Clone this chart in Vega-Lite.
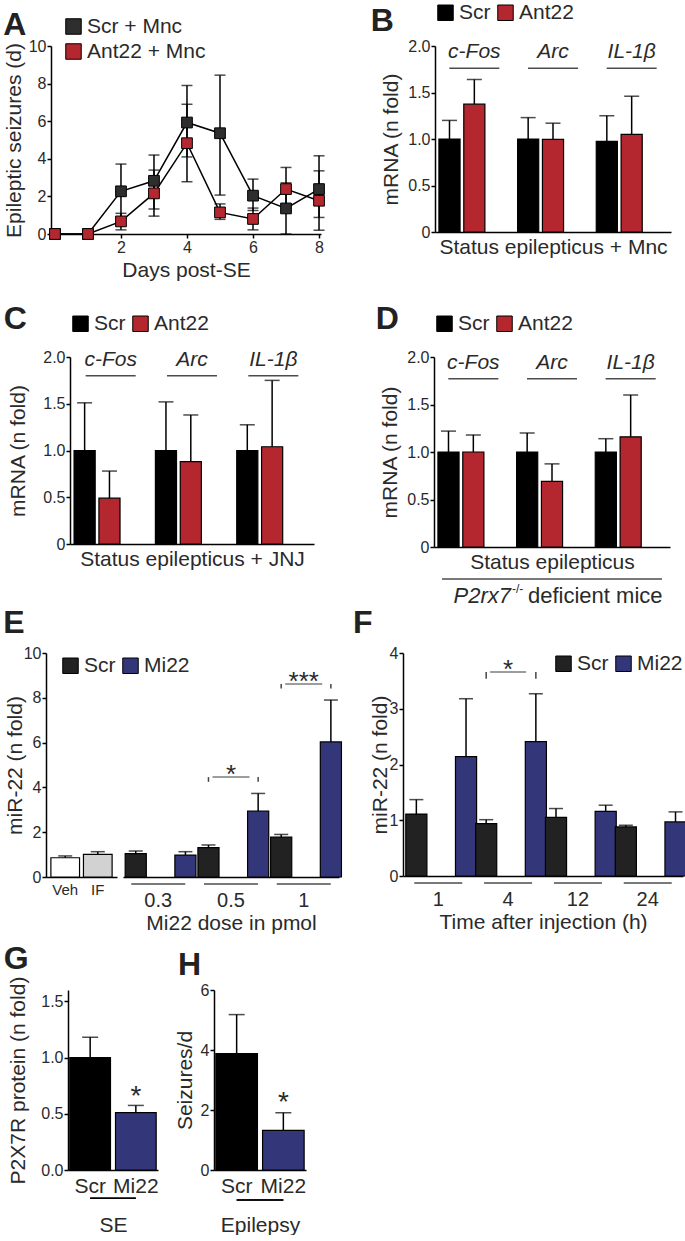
{
"$schema": "https://vega.github.io/schema/vega-lite/v6.json",
"padding": {"left": 2, "top": 2, "right": 0, "bottom": 0},
"background": "white",
"config": {
  "font": "Liberation Sans",
  "view": {"stroke": null},
  "axis": {"domainColor": "#000", "domainWidth": 1.5, "tickColor": "#000", "tickWidth": 1.5, "tickSize": 4, "labelFontSize": 16, "labelColor": "#2a2a2a", "titleFontSize": 21, "titleFontWeight": "normal", "titleColor": "#2a2a2a", "grid": false, "labelPadding": 1, "labelOverlap": false},
  "legend": {"labelFontSize": 21, "labelColor": "#2a2a2a", "symbolType": "square", "symbolSize": 240, "symbolStrokeColor": "#000", "symbolStrokeWidth": 1, "symbolOpacity": 1, "labelOffset": 3, "columnPadding": 4, "rowPadding": 3, "padding": 0},
  "title": {"fontSize": 32, "fontWeight": "bold", "anchor": "start", "frame": "bounds", "color": "#222", "baseline": "alphabetic", "offset": 0}
},
"datasets": {
  "A": [
    {"day": 0, "group": "Scr + Mnc", "mean": 0, "lo": 0, "hi": 0},
    {"day": 1, "group": "Scr + Mnc", "mean": 0, "lo": 0, "hi": 0},
    {"day": 2, "group": "Scr + Mnc", "mean": 2.27, "lo": 0.82, "hi": 3.72},
    {"day": 3, "group": "Scr + Mnc", "mean": 2.83, "lo": 1.33, "hi": 4.2},
    {"day": 4, "group": "Scr + Mnc", "mean": 5.93, "lo": 4.1, "hi": 7.9},
    {"day": 5, "group": "Scr + Mnc", "mean": 5.36, "lo": 2.07, "hi": 8.45},
    {"day": 6, "group": "Scr + Mnc", "mean": 2.04, "lo": 1.25, "hi": 2.92},
    {"day": 7, "group": "Scr + Mnc", "mean": 1.36, "lo": 0, "hi": 2.72},
    {"day": 8, "group": "Scr + Mnc", "mean": 2.39, "lo": 0.88, "hi": 4.16},
    {"day": 0, "group": "Ant22 + Mnc", "mean": 0, "lo": 0, "hi": 0},
    {"day": 1, "group": "Ant22 + Mnc", "mean": 0, "lo": 0, "hi": 0},
    {"day": 2, "group": "Ant22 + Mnc", "mean": 0.67, "lo": 0.22, "hi": 1.1},
    {"day": 3, "group": "Ant22 + Mnc", "mean": 2.16, "lo": 0.95, "hi": 3.4},
    {"day": 4, "group": "Ant22 + Mnc", "mean": 4.83, "lo": 2.78, "hi": 6.9},
    {"day": 5, "group": "Ant22 + Mnc", "mean": 1.15, "lo": 0.78, "hi": 1.6},
    {"day": 6, "group": "Ant22 + Mnc", "mean": 0.8, "lo": 0.22, "hi": 1.38},
    {"day": 7, "group": "Ant22 + Mnc", "mean": 2.39, "lo": 1.24, "hi": 3.54},
    {"day": 8, "group": "Ant22 + Mnc", "mean": 1.77, "lo": 0.2, "hi": 3.36}
  ],
  "B": [
    {"gene": "c-Fos", "trt": "Scr", "mean": 1.0, "hi": 1.2},
    {"gene": "c-Fos", "trt": "Ant22", "mean": 1.375, "hi": 1.64},
    {"gene": "Arc", "trt": "Scr", "mean": 1.0, "hi": 1.23},
    {"gene": "Arc", "trt": "Ant22", "mean": 0.995, "hi": 1.17},
    {"gene": "IL-1β", "trt": "Scr", "mean": 0.975, "hi": 1.25},
    {"gene": "IL-1β", "trt": "Ant22", "mean": 1.05, "hi": 1.46}
  ],
  "C": [
    {"gene": "c-Fos", "trt": "Scr", "mean": 1.0, "hi": 1.51},
    {"gene": "c-Fos", "trt": "Ant22", "mean": 0.49, "hi": 0.78},
    {"gene": "Arc", "trt": "Scr", "mean": 1.0, "hi": 1.52},
    {"gene": "Arc", "trt": "Ant22", "mean": 0.88, "hi": 1.38},
    {"gene": "IL-1β", "trt": "Scr", "mean": 1.0, "hi": 1.275},
    {"gene": "IL-1β", "trt": "Ant22", "mean": 1.04, "hi": 1.75}
  ],
  "D": [
    {"gene": "c-Fos", "trt": "Scr", "mean": 1.0, "hi": 1.22},
    {"gene": "c-Fos", "trt": "Ant22", "mean": 1.0, "hi": 1.18},
    {"gene": "Arc", "trt": "Scr", "mean": 1.0, "hi": 1.2},
    {"gene": "Arc", "trt": "Ant22", "mean": 0.69, "hi": 0.875},
    {"gene": "IL-1β", "trt": "Scr", "mean": 1.0, "hi": 1.14},
    {"gene": "IL-1β", "trt": "Ant22", "mean": 1.16, "hi": 1.6}
  ],
  "E1": [
    {"cond": "Veh", "mean": 0.86, "hi": 0.94},
    {"cond": "IF", "mean": 1.01, "hi": 1.13}
  ],
  "E2": [
    {"dose": "0.3", "trt": "Scr", "mean": 1.04, "hi": 1.16},
    {"dose": "0.3", "trt": "Mi22", "mean": 0.98, "hi": 1.13},
    {"dose": "0.5", "trt": "Scr", "mean": 1.31, "hi": 1.43},
    {"dose": "0.5", "trt": "Mi22", "mean": 2.94, "hi": 3.73},
    {"dose": "1", "trt": "Scr", "mean": 1.78, "hi": 1.9},
    {"dose": "1", "trt": "Mi22", "mean": 6.03, "hi": 7.9}
  ],
  "Esig": [
    {"dose": "0.5", "trt": "Scr", "level": 4.46, "leg": 4.25, "star": "*"},
    {"dose": "0.5", "trt": "Mi22", "level": 4.46, "leg": 4.25, "star": "*"},
    {"dose": "1", "trt": "Scr", "level": 8.62, "leg": 8.41, "star": "***"},
    {"dose": "1", "trt": "Mi22", "level": 8.62, "leg": 8.41, "star": "***"}
  ],
  "F": [
    {"time": "1", "trt": "Scr", "mean": 1.11, "hi": 1.37},
    {"time": "1", "trt": "Mi22", "mean": 2.14, "hi": 3.18},
    {"time": "4", "trt": "Scr", "mean": 0.94, "hi": 1.01},
    {"time": "4", "trt": "Mi22", "mean": 2.41, "hi": 3.27},
    {"time": "12", "trt": "Scr", "mean": 1.05, "hi": 1.21},
    {"time": "12", "trt": "Mi22", "mean": 1.16, "hi": 1.27},
    {"time": "24", "trt": "Scr", "mean": 0.88, "hi": 0.91},
    {"time": "24", "trt": "Mi22", "mean": 0.97, "hi": 1.15}
  ],
  "Fsig": [
    {"time": "4", "trt": "Scr", "level": 3.66, "leg": 3.54, "star": "*"},
    {"time": "4", "trt": "Mi22", "level": 3.66, "leg": 3.54, "star": "*"}
  ],
  "G": [
    {"trt": "Scr", "mean": 1.0, "hi": 1.18, "sig": ""},
    {"trt": "Mi22", "mean": 0.51, "hi": 0.574, "sig": "*"}
  ],
  "H": [
    {"trt": "Scr", "mean": 3.88, "hi": 5.18, "sig": ""},
    {"trt": "Mi22", "mean": 1.32, "hi": 1.91, "sig": "*"}
  ]
},
"resolve": {"scale": {"fill": "independent"}, "legend": {"fill": "independent"}},
"spacing": 23,
"vconcat": [
  {
    "spacing": 0,
    "resolve": {"scale": {"fill": "independent"}, "legend": {"fill": "independent"}},
    "hconcat": [
      {"width": 1, "height": 1, "data": {"values": []}, "mark": "point"},
      {
        "spacing": 43,
        "resolve": {"scale": {"fill": "independent"}, "legend": {"fill": "independent"}},
        "hconcat": [
          {
            "width": 270, "height": 188,
            "title": {"text": "A", "dx": 0, "offset": -26},
            "data": {"name": "A"},
            "encoding": {
              "x": {"field": "day", "type": "quantitative", "scale": {"domain": [-0.12, 8.06]}, "axis": {"values": [2, 4, 6, 8], "title": "Days post-SE", "titlePadding": 4}}
            },
            "layer": [
              {"mark": {"type": "line", "color": "#000", "strokeWidth": 1.5},
               "encoding": {"y": {"field": "mean", "type": "quantitative", "scale": {"domain": [0, 10]}, "axis": {"values": [0, 2, 4, 6, 8, 10], "format": "d", "labelOverlap": false, "title": "Epileptic seizures (d)", "titlePadding": 4}}, "detail": {"field": "group"}}},
              {"mark": {"type": "rule", "color": "#000", "strokeWidth": 1.5},
               "encoding": {"y": {"field": "lo", "type": "quantitative", "axis": {"values": [0, 2, 4, 6, 8, 10], "format": "d", "labelOverlap": false, "title": "Epileptic seizures (d)", "titlePadding": 4}}, "y2": {"field": "hi"}}},
              {"mark": {"type": "tick", "orient": "horizontal", "size": 11, "thickness": 1.5, "color": "#000"},
               "encoding": {"y": {"field": "lo", "type": "quantitative", "axis": {"values": [0, 2, 4, 6, 8, 10], "format": "d", "labelOverlap": false, "title": "Epileptic seizures (d)", "titlePadding": 4}}}},
              {"mark": {"type": "tick", "orient": "horizontal", "size": 11, "thickness": 1.5, "color": "#000"},
               "encoding": {"y": {"field": "hi", "type": "quantitative", "axis": {"values": [0, 2, 4, 6, 8, 10], "format": "d", "labelOverlap": false, "title": "Epileptic seizures (d)", "titlePadding": 4}}}},
              {"mark": {"type": "point", "shape": "square", "filled": true, "size": 115, "stroke": "#000", "strokeWidth": 1, "opacity": 1},
               "encoding": {"y": {"field": "mean", "type": "quantitative", "axis": {"values": [0, 2, 4, 6, 8, 10], "format": "d", "labelOverlap": false, "title": "Epileptic seizures (d)", "titlePadding": 4}},
                 "fill": {"field": "group", "type": "nominal", "scale": {"domain": ["Scr + Mnc", "Ant22 + Mnc"], "range": ["#2e2e2e", "#b5272f"]},
                   "legend": {"title": null, "orient": "none", "legendX": 12, "legendY": -30, "direction": "vertical"}}}}
            ]
          },
          {
            "width": 236, "height": 186,
            "title": {"text": "B", "dx": -10, "offset": -36},
            "data": {"name": "B"},
            "encoding": {
              "x": {"field": "gene", "type": "nominal", "sort": ["c-Fos", "Arc", "IL-1β"], "scale": {"paddingInner": 0.1, "paddingOuter": 0.05}, "axis": {"title": "Status epilepticus + Mnc", "labels": false, "ticks": false, "titlePadding": 4}}
            },
            "layer": [
              {"mark": {"type": "bar", "stroke": "#000", "strokeWidth": 1.2},
               "encoding": {"xOffset": {"field": "trt", "type": "nominal", "sort": ["Scr", "Ant22"], "scale": {"paddingInner": 0.15}},
                 "y": {"field": "mean", "type": "quantitative", "scale": {"domain": [0, 2]}, "axis": {"values": [0, 0.5, 1, 1.5, 2], "labelExpr": "datum.value == 0 ? '0' : format(datum.value, '.1f')", "title": "mRNA (n fold)", "titlePadding": 6}},
                 "fill": {"field": "trt", "type": "nominal", "scale": {"domain": ["Scr", "Ant22"], "range": ["#000000", "#b5272f"]},
                   "legend": {"title": null, "orient": "none", "legendX": 0, "legendY": -44, "direction": "horizontal"}}}},
              {"mark": {"type": "rule", "color": "#000", "strokeWidth": 1.5},
               "encoding": {"xOffset": {"field": "trt", "type": "nominal", "sort": ["Scr", "Ant22"]}, "y": {"field": "mean", "type": "quantitative", "title": "mRNA (n fold)"}, "y2": {"field": "hi"}}},
              {"mark": {"type": "tick", "orient": "horizontal", "size": 15, "thickness": 1.5, "color": "#000"},
               "encoding": {"xOffset": {"field": "trt", "type": "nominal", "sort": ["Scr", "Ant22"]}, "y": {"field": "hi", "type": "quantitative", "title": "mRNA (n fold)"}}},
              {"transform": [{"filter": "datum.trt == 'Scr'"}],
               "mark": {"type": "text", "fontStyle": "italic", "fontSize": 21, "color": "#2a2a2a", "baseline": "middle"},
               "encoding": {"y": {"datum": 1.94}, "text": {"field": "gene"}}},
              {"transform": [{"filter": "datum.trt == 'Scr'"}],
               "mark": {"type": "tick", "orient": "horizontal", "size": 50, "thickness": 1.5, "color": "#000"},
               "encoding": {"y": {"datum": 1.76}}}
            ]
          }
        ]
      }
    ]
  },
  {
    "spacing": -1,
    "resolve": {"scale": {"fill": "independent"}, "legend": {"fill": "independent"}},
    "vconcat": [
      {
        "spacing": 0,
        "resolve": {"scale": {"fill": "independent"}, "legend": {"fill": "independent"}},
        "hconcat": [
          {"width": 1, "height": 1, "data": {"values": []}, "mark": "point"},
          {
            "spacing": 61,
            "resolve": {"scale": {"fill": "independent"}, "legend": {"fill": "independent"}},
            "hconcat": [
              {
                "width": 244, "height": 187,
                "title": {"text": "C", "dx": -4, "offset": -23},
                "data": {"name": "C"},
                "encoding": {
                  "x": {"field": "gene", "type": "nominal", "sort": ["c-Fos", "Arc", "IL-1β"], "scale": {"paddingInner": 0.1, "paddingOuter": 0.05}, "axis": {"title": "Status epilepticus + JNJ", "labels": false, "ticks": false, "titlePadding": 4}}
                },
                "layer": [
                  {"mark": {"type": "bar", "stroke": "#000", "strokeWidth": 1.2},
                   "encoding": {"xOffset": {"field": "trt", "type": "nominal", "sort": ["Scr", "Ant22"], "scale": {"paddingInner": 0.15}},
                     "y": {"field": "mean", "type": "quantitative", "scale": {"domain": [0, 2]}, "axis": {"values": [0, 0.5, 1, 1.5, 2], "labelExpr": "datum.value == 0 ? '0' : format(datum.value, '.1f')", "title": "mRNA (n fold)", "titlePadding": 14}},
                     "fill": {"field": "trt", "type": "nominal", "scale": {"domain": ["Scr", "Ant22"], "range": ["#000000", "#b5272f"]},
                       "legend": {"title": null, "orient": "none", "legendX": 0, "legendY": -44, "direction": "horizontal"}}}},
                  {"mark": {"type": "rule", "color": "#000", "strokeWidth": 1.5},
                   "encoding": {"xOffset": {"field": "trt", "type": "nominal", "sort": ["Scr", "Ant22"]}, "y": {"field": "mean", "type": "quantitative", "title": "mRNA (n fold)"}, "y2": {"field": "hi"}}},
                  {"mark": {"type": "tick", "orient": "horizontal", "size": 15, "thickness": 1.5, "color": "#000"},
                   "encoding": {"xOffset": {"field": "trt", "type": "nominal", "sort": ["Scr", "Ant22"]}, "y": {"field": "hi", "type": "quantitative", "title": "mRNA (n fold)"}}},
                  {"transform": [{"filter": "datum.trt == 'Scr'"}],
                   "mark": {"type": "text", "fontStyle": "italic", "fontSize": 21, "color": "#2a2a2a", "baseline": "middle"},
                   "encoding": {"y": {"datum": 1.97}, "text": {"field": "gene"}}},
                  {"transform": [{"filter": "datum.trt == 'Scr'"}],
                   "mark": {"type": "tick", "orient": "horizontal", "size": 50, "thickness": 1.5, "color": "#000"},
                   "encoding": {"y": {"datum": 1.8}}}
                ]
              },
              {
                "width": 236, "height": 190,
                "title": {"text": "D", "dx": -4, "offset": -23},
                "data": {"name": "D"},
                "encoding": {
                  "x": {"field": "gene", "type": "nominal", "sort": ["c-Fos", "Arc", "IL-1β"], "scale": {"paddingInner": 0.1, "paddingOuter": 0.05}, "axis": {"title": "Status epilepticus", "labels": false, "ticks": false, "titlePadding": 4}}
                },
                "layer": [
                  {"mark": {"type": "bar", "stroke": "#000", "strokeWidth": 1.2},
                   "encoding": {"xOffset": {"field": "trt", "type": "nominal", "sort": ["Scr", "Ant22"], "scale": {"paddingInner": 0.15}},
                     "y": {"field": "mean", "type": "quantitative", "scale": {"domain": [0, 2]}, "axis": {"values": [0, 0.5, 1, 1.5, 2], "labelExpr": "datum.value == 0 ? '0' : format(datum.value, '.1f')", "title": "mRNA (n fold)", "titlePadding": 6}},
                     "fill": {"field": "trt", "type": "nominal", "scale": {"domain": ["Scr", "Ant22"], "range": ["#000000", "#b5272f"]},
                       "legend": {"title": null, "orient": "none", "legendX": 0, "legendY": -44, "direction": "horizontal"}}}},
                  {"mark": {"type": "rule", "color": "#000", "strokeWidth": 1.5},
                   "encoding": {"xOffset": {"field": "trt", "type": "nominal", "sort": ["Scr", "Ant22"]}, "y": {"field": "mean", "type": "quantitative", "title": "mRNA (n fold)"}, "y2": {"field": "hi"}}},
                  {"mark": {"type": "tick", "orient": "horizontal", "size": 15, "thickness": 1.5, "color": "#000"},
                   "encoding": {"xOffset": {"field": "trt", "type": "nominal", "sort": ["Scr", "Ant22"]}, "y": {"field": "hi", "type": "quantitative", "title": "mRNA (n fold)"}}},
                  {"transform": [{"filter": "datum.trt == 'Scr'"}],
                   "mark": {"type": "text", "fontStyle": "italic", "fontSize": 21, "color": "#2a2a2a", "baseline": "middle"},
                   "encoding": {"y": {"datum": 1.94}, "text": {"field": "gene"}}},
                  {"transform": [{"filter": "datum.trt == 'Scr'"}],
                   "mark": {"type": "tick", "orient": "horizontal", "size": 50, "thickness": 1.5, "color": "#000"},
                   "encoding": {"y": {"datum": 1.77}}},
                  {"transform": [{"filter": "datum.gene == 'Arc' && datum.trt == 'Scr'"}],
                   "mark": {"type": "tick", "orient": "horizontal", "size": 220, "thickness": 1.5, "color": "#000"},
                   "encoding": {"y": {"datum": -0.337}}},
                  {"transform": [{"filter": "datum.gene == 'Arc' && datum.trt == 'Scr'"}],
                   "mark": {"type": "text", "text": "P2rx7", "fontStyle": "italic", "fontSize": 22, "color": "#2a2a2a", "align": "right", "baseline": "middle", "dx": -41},
                   "encoding": {"y": {"datum": -0.52}}},
                  {"transform": [{"filter": "datum.gene == 'Arc' && datum.trt == 'Scr'"}],
                   "mark": {"type": "text", "text": "-/-", "fontSize": 12, "color": "#2a2a2a", "align": "left", "baseline": "middle", "dx": -40, "dy": -7},
                   "encoding": {"y": {"datum": -0.52}}},
                  {"transform": [{"filter": "datum.gene == 'Arc' && datum.trt == 'Scr'"}],
                   "mark": {"type": "text", "text": "deficient mice", "fontSize": 22, "color": "#2a2a2a", "align": "left", "baseline": "middle", "dx": -24},
                   "encoding": {"y": {"datum": -0.52}}}
                ]
              }
            ]
          }
        ]
      },
      {
        "spacing": 10,
        "resolve": {"scale": {"fill": "independent"}, "legend": {"fill": "independent"}},
        "vconcat": [
          {
            "spacing": 0,
            "resolve": {"scale": {"fill": "independent"}, "legend": {"fill": "independent"}},
            "hconcat": [
              {"width": 1, "height": 1, "data": {"values": []}, "mark": "point"},
              {
                "spacing": 10,
                "resolve": {"scale": {"fill": "independent"}, "legend": {"fill": "independent"}},
                "hconcat": [
                  {
                    "width": 293, "height": 224,
                    "title": {"text": "E", "dx": -1, "offset": 5},
                    "resolve": {"scale": {"x": "independent", "fill": "independent"}, "axis": {"x": "independent"}},
                    "layer": [
                      {
                        "data": {"name": "E1"},
                        "encoding": {"x": {"field": "cond", "type": "nominal", "sort": ["Veh", "IF"], "scale": {"range": [0, 71], "paddingInner": 0.12, "paddingOuter": 0.15}, "axis": {"title": null, "labelAngle": 0, "ticks": false, "labelFontSize": 15, "labelPadding": 5, "orient": "bottom"}}},
                        "layer": [
                          {"mark": {"type": "bar", "stroke": "#000", "strokeWidth": 1.2},
                           "encoding": {"y": {"field": "mean", "type": "quantitative", "scale": {"domain": [0, 10]}, "axis": {"values": [0, 2, 4, 6, 8, 10], "format": "d", "title": "miR-22 (n fold)", "titlePadding": -2}},
                             "fill": {"field": "cond", "type": "nominal", "scale": {"domain": ["Veh", "IF"], "range": ["#ffffff", "#d2d2d2"]}, "legend": null}}},
                          {"mark": {"type": "rule", "color": "#000", "strokeWidth": 1.5},
                           "encoding": {"y": {"field": "mean", "type": "quantitative", "title": "miR-22 (n fold)"}, "y2": {"field": "hi"}}},
                          {"mark": {"type": "tick", "orient": "horizontal", "size": 14, "thickness": 1.5, "color": "#000"},
                           "encoding": {"y": {"field": "hi", "type": "quantitative", "title": "miR-22 (n fold)"}}}
                        ]
                      },
                      {
                        "encoding": {"x": {"field": "dose", "type": "nominal", "sort": ["0.3", "0.5", "1"], "scale": {"range": [77, 293], "paddingInner": 0.09, "paddingOuter": 0.03}, "axis": {"title": "Mi22 dose in pmol", "labelAngle": 0, "ticks": false, "labelFontSize": 20, "labelPadding": 13, "titlePadding": 2, "orient": "bottom"}}},
                        "layer": [
                          {"data": {"name": "E2"},
                           "mark": {"type": "bar", "stroke": "#000", "strokeWidth": 1.2},
                           "encoding": {"xOffset": {"field": "trt", "type": "nominal", "sort": ["Scr", "Mi22"], "scale": {"paddingInner": 0.15}},
                             "y": {"field": "mean", "type": "quantitative", "title": "miR-22 (n fold)"},
                             "fill": {"field": "trt", "type": "nominal", "scale": {"domain": ["Scr", "Mi22"], "range": ["#222222", "#34367a"]},
                               "legend": {"title": null, "orient": "none", "legendX": 14, "legendY": 2, "direction": "horizontal"}}}},
                          {"data": {"name": "E2"},
                           "mark": {"type": "rule", "color": "#000", "strokeWidth": 1.5},
                           "encoding": {"xOffset": {"field": "trt", "type": "nominal", "sort": ["Scr", "Mi22"]}, "y": {"field": "mean", "type": "quantitative", "title": "miR-22 (n fold)"}, "y2": {"field": "hi"}}},
                          {"data": {"name": "E2"},
                           "mark": {"type": "tick", "orient": "horizontal", "size": 14, "thickness": 1.5, "color": "#000"},
                           "encoding": {"xOffset": {"field": "trt", "type": "nominal", "sort": ["Scr", "Mi22"]}, "y": {"field": "hi", "type": "quantitative", "title": "miR-22 (n fold)"}}},
                          {"data": {"name": "E2"},
                           "transform": [{"filter": "datum.trt == 'Scr'"}],
                           "mark": {"type": "tick", "orient": "horizontal", "size": 54, "thickness": 1.5, "color": "#000"},
                           "encoding": {"y": {"datum": -0.31}}},
                          {"data": {"name": "Esig"},
                           "mark": {"type": "rule", "color": "#444", "strokeWidth": 1.5},
                           "encoding": {"xOffset": {"field": "trt", "type": "nominal", "sort": ["Scr", "Mi22"]}, "y": {"field": "level", "type": "quantitative", "title": "miR-22 (n fold)"}, "y2": {"field": "leg"}}},
                          {"data": {"name": "Esig"},
                           "transform": [{"filter": "datum.trt == 'Scr'"}],
                           "mark": {"type": "tick", "orient": "horizontal", "size": 37, "thickness": 1.5, "color": "#444"},
                           "encoding": {"y": {"field": "level", "type": "quantitative", "title": "miR-22 (n fold)"}}},
                          {"data": {"name": "Esig"},
                           "transform": [{"filter": "datum.trt == 'Scr'"}],
                           "mark": {"type": "text", "fontSize": 26, "color": "#2a2a2a", "baseline": "alphabetic", "dy": 6},
                           "encoding": {"y": {"field": "level", "type": "quantitative", "title": "miR-22 (n fold)"}, "text": {"field": "star"}}}
                        ]
                      }
                    ]
                  },
                  {
                    "width": 280, "height": 223,
                    "title": {"text": "F", "dx": -16, "offset": 5},
                    "encoding": {
                      "x": {"field": "time", "type": "nominal", "sort": ["1", "4", "12", "24"], "scale": {"paddingInner": 0.07, "paddingOuter": 0.04}, "axis": {"title": "Time after injection (h)", "labelAngle": 0, "ticks": false, "labelFontSize": 20, "labelPadding": 13, "titlePadding": 2}}
                    },
                    "layer": [
                      {"data": {"name": "F"},
                       "mark": {"type": "bar", "stroke": "#000", "strokeWidth": 1.2},
                       "encoding": {"xOffset": {"field": "trt", "type": "nominal", "sort": ["Scr", "Mi22"], "scale": {"paddingInner": 0.1}},
                         "y": {"field": "mean", "type": "quantitative", "scale": {"domain": [0, 4]}, "axis": {"values": [0, 1, 2, 3, 4], "format": "d", "title": "miR-22 (n fold)", "titlePadding": -1}},
                         "fill": {"field": "trt", "type": "nominal", "scale": {"domain": ["Scr", "Mi22"], "range": ["#222222", "#34367a"]},
                           "legend": {"title": null, "orient": "none", "legendX": 150, "legendY": 0, "direction": "horizontal"}}}},
                      {"data": {"name": "F"},
                       "mark": {"type": "rule", "color": "#000", "strokeWidth": 1.5},
                       "encoding": {"xOffset": {"field": "trt", "type": "nominal", "sort": ["Scr", "Mi22"]}, "y": {"field": "mean", "type": "quantitative", "title": "miR-22 (n fold)"}, "y2": {"field": "hi"}}},
                      {"data": {"name": "F"},
                       "mark": {"type": "tick", "orient": "horizontal", "size": 14, "thickness": 1.5, "color": "#000"},
                       "encoding": {"xOffset": {"field": "trt", "type": "nominal", "sort": ["Scr", "Mi22"]}, "y": {"field": "hi", "type": "quantitative", "title": "miR-22 (n fold)"}}},
                      {"data": {"name": "F"},
                       "transform": [{"filter": "datum.trt == 'Scr'"}],
                       "mark": {"type": "tick", "orient": "horizontal", "size": 48, "thickness": 1.5, "color": "#000"},
                       "encoding": {"y": {"datum": -0.125}}},
                      {"data": {"name": "Fsig"},
                       "mark": {"type": "rule", "color": "#444", "strokeWidth": 1.5},
                       "encoding": {"xOffset": {"field": "trt", "type": "nominal", "sort": ["Scr", "Mi22"]}, "y": {"field": "level", "type": "quantitative", "title": "miR-22 (n fold)"}, "y2": {"field": "leg"}}},
                      {"data": {"name": "Fsig"},
                       "transform": [{"filter": "datum.trt == 'Scr'"}],
                       "mark": {"type": "tick", "orient": "horizontal", "size": 36, "thickness": 1.5, "color": "#444"},
                       "encoding": {"y": {"field": "level", "type": "quantitative", "title": "miR-22 (n fold)"}}},
                      {"data": {"name": "Fsig"},
                       "transform": [{"filter": "datum.trt == 'Scr'"}],
                       "mark": {"type": "text", "fontSize": 26, "color": "#2a2a2a", "baseline": "alphabetic", "dy": 6},
                       "encoding": {"y": {"field": "level", "type": "quantitative", "title": "miR-22 (n fold)"}, "text": {"field": "star"}}}
                    ]
                  }
                ]
              }
            ]
          },
          {
            "spacing": 0,
            "resolve": {"scale": {"fill": "independent"}, "legend": {"fill": "independent"}},
            "hconcat": [
              {"width": 1, "height": 1, "data": {"values": []}, "mark": "point"},
              {
                "spacing": 15,
                "resolve": {"scale": {"fill": "independent"}, "legend": {"fill": "independent"}},
                "hconcat": [
                  {
                    "width": 90, "height": 180,
                    "title": {"text": "G", "dx": -4, "offset": 0},
                    "data": {"name": "G"},
                    "encoding": {
                      "x": {"field": "trt", "type": "nominal", "sort": ["Scr", "Mi22"], "scale": {"paddingInner": 0.11, "paddingOuter": 0.04}, "axis": {"title": "SE", "labelAngle": 0, "ticks": false, "labelFontSize": 21, "labelPadding": 5, "titlePadding": 18}}
                    },
                    "layer": [
                      {"mark": {"type": "bar", "stroke": "#000", "strokeWidth": 1.2},
                       "encoding": {"y": {"field": "mean", "type": "quantitative", "scale": {"domain": [0, 1.5]}, "axis": {"values": [0, 0.5, 1, 1.5], "format": ".1f", "title": "P2X7R protein (n fold)", "titlePadding": 12}},
                         "fill": {"field": "trt", "type": "nominal", "scale": {"domain": ["Scr", "Mi22"], "range": ["#000000", "#34367a"]}, "legend": null}}},
                      {"mark": {"type": "rule", "color": "#000", "strokeWidth": 1.5},
                       "encoding": {"y": {"field": "mean", "type": "quantitative", "title": "P2X7R protein (n fold)"}, "y2": {"field": "hi"}}},
                      {"mark": {"type": "tick", "orient": "horizontal", "size": 16, "thickness": 1.5, "color": "#000"},
                       "encoding": {"y": {"field": "hi", "type": "quantitative", "title": "P2X7R protein (n fold)"}}},
                      {"mark": {"type": "text", "fontSize": 28, "color": "#2a2a2a", "baseline": "alphabetic", "dy": 0},
                       "encoding": {"y": {"field": "hi", "type": "quantitative", "title": "P2X7R protein (n fold)"}, "text": {"field": "sig"}}},
                      {"mark": {"type": "rule", "color": "#000", "strokeWidth": 1.5},
                       "encoding": {"x": {"datum": "Scr"}, "x2": {"datum": "Mi22"}, "y": {"datum": -0.25}}}
                    ]
                  },
                  {
                    "width": 92, "height": 180,
                    "title": {"text": "H", "dx": 4, "offset": 0},
                    "data": {"name": "H"},
                    "encoding": {
                      "x": {"field": "trt", "type": "nominal", "sort": ["Scr", "Mi22"], "scale": {"paddingInner": 0.11, "paddingOuter": 0.04}, "axis": {"title": "Epilepsy", "labelAngle": 0, "ticks": false, "labelFontSize": 21, "labelPadding": 5, "titlePadding": 18}}
                    },
                    "layer": [
                      {"mark": {"type": "bar", "stroke": "#000", "strokeWidth": 1.2},
                       "encoding": {"y": {"field": "mean", "type": "quantitative", "scale": {"domain": [0, 6]}, "axis": {"values": [0, 2, 4, 6], "format": "d", "title": "Seizures/d", "titlePadding": 5}},
                         "fill": {"field": "trt", "type": "nominal", "scale": {"domain": ["Scr", "Mi22"], "range": ["#000000", "#34367a"]}, "legend": null}}},
                      {"mark": {"type": "rule", "color": "#000", "strokeWidth": 1.5},
                       "encoding": {"y": {"field": "mean", "type": "quantitative", "title": "Seizures/d"}, "y2": {"field": "hi"}}},
                      {"mark": {"type": "tick", "orient": "horizontal", "size": 16, "thickness": 1.5, "color": "#000"},
                       "encoding": {"y": {"field": "hi", "type": "quantitative", "title": "Seizures/d"}}},
                      {"mark": {"type": "text", "fontSize": 28, "color": "#2a2a2a", "baseline": "alphabetic", "dy": -2},
                       "encoding": {"y": {"field": "hi", "type": "quantitative", "title": "Seizures/d"}, "text": {"field": "sig"}}},
                      {"mark": {"type": "rule", "color": "#000", "strokeWidth": 1.5},
                       "encoding": {"x": {"datum": "Scr"}, "x2": {"datum": "Mi22"}, "y": {"datum": -1.0}}}
                    ]
                  }
                ]
              }
            ]
          }
        ]
      }
    ]
  }
]
}
